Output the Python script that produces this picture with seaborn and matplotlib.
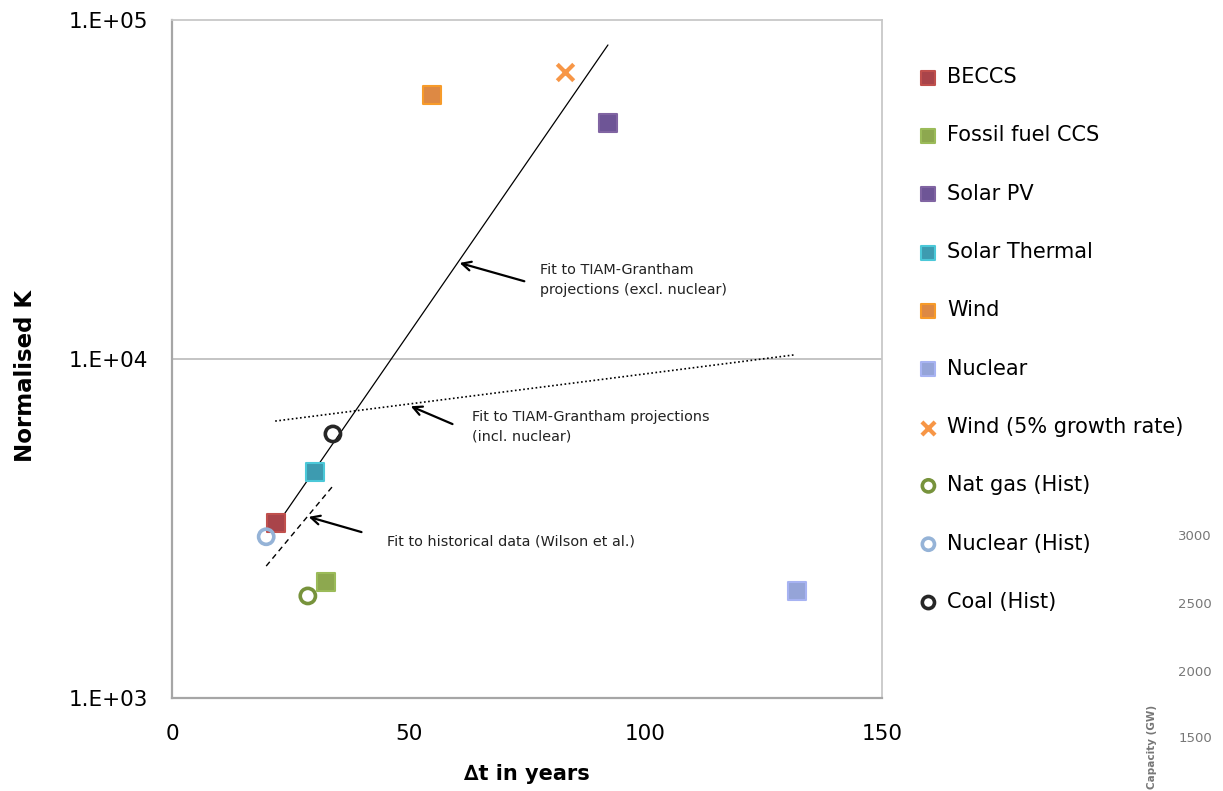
import numpy as np
import seaborn as sns
import matplotlib.pyplot as plt
from matplotlib.ticker import FixedLocator, FuncFormatter, NullLocator

# Projection points (delta t in years, normalised K)
series_names = ["BECCS", "Fossil fuel CCS", "Solar PV", "Solar Thermal", "Wind", "Nuclear",
                "Wind (5% growth rate)", "Nat gas (Hist)", "Nuclear (Hist)", "Coal (Hist)"]
series_dt = [22.0, 32.5, 92.1, 30.2, 54.9, 132.0, 83.0, 28.7, 19.9, 34.0]
series_k = [3280, 2200, 49700, 4640, 60100, 2070, 70300, 2000, 2990, 6010]
series_marker = ["s", "s", "s", "s", "s", "s", "x", "o", "o", "o"]
series_face = ["#A9444A", "#8DA84F", "#6E5596", "#3D9BB0", "#DD8944", "#95A4D8",
               "#F79646", "none", "none", "none"]
series_edge = ["#C0504D", "#9BBB59", "#8064A2", "#4BC8D8", "#F79B2A", "#A7B3F2",
               "#F79646", "#77933C", "#95B3D7", "#262626"]

# Fit lines (end points)
fit_excl_dt = [21.8, 92.1]
fit_excl_k = [3190, 84400]
fit_incl_dt = [21.8, 131.6]
fit_incl_k = [6560, 10290]
fit_hist_dt = [19.9, 33.8]
fit_hist_k = [2450, 4190]

sns.set_style("white")
plt.rcParams['font.family'] = ['DejaVu Sans']
plt.rcParams['text.color'] = 'black'
plt.rcParams['axes.labelcolor'] = 'black'

fig = plt.figure(figsize=(12.23, 7.91), dpi=100)
ax = fig.add_axes([172 / 1223, 1 - 698 / 791, 710 / 1223, 678 / 791])

sns.lineplot(x=fit_excl_dt, y=fit_excl_k, ax=ax, color="black", lw=0.9, sort=False)
sns.lineplot(x=fit_incl_dt, y=fit_incl_k, ax=ax, color="black", lw=1.2, linestyle=(0, (1, 1.5)), sort=False)
sns.lineplot(x=fit_hist_dt, y=fit_hist_k, ax=ax, color="black", lw=1.0, linestyle=(0, (4, 3)), sort=False)

for name, dt, k, m, fc, ec in zip(series_names, series_dt, series_k, series_marker, series_face, series_edge):
    if m == "s":
        sns.scatterplot(x=[dt], y=[k], ax=ax, marker="s", s=150, color=fc, edgecolor=ec,
                        linewidth=1.5, label=name, zorder=3)
    elif m == "x":
        sns.scatterplot(x=[dt], y=[k], ax=ax, marker="x", s=140, color=ec, linewidth=3,
                        label=name, zorder=3)
    else:
        sns.scatterplot(x=[dt], y=[k], ax=ax, marker="o", s=120, facecolor="none", edgecolor=ec,
                        linewidth=2.6, label=name, zorder=3)

ax.set_yscale("log")
ax.set_xlim(0, 150)
ax.set_ylim(1e3, 1e5)
ax.xaxis.set_major_locator(FixedLocator([0, 50, 100, 150]))
ax.yaxis.set_major_locator(FixedLocator([1e3, 1e4, 1e5]))
ax.yaxis.set_minor_locator(NullLocator())
ax.yaxis.set_major_formatter(FuncFormatter(lambda v, p: "1.E+%02d" % round(np.log10(v))))
ax.tick_params(axis="both", direction="out", length=6, width=1.2, color="#A6A6A6",
               labelsize=15.5, labelcolor="black")
ax.tick_params(axis="y", pad=11)
ax.tick_params(axis="x", pad=13)
ax.grid(False)
ax.axhline(1e4, color="#BFBFBF", lw=1.3, zorder=0)

for side in ["left", "bottom"]:
    ax.spines[side].set_color("#A6A6A6")
    ax.spines[side].set_linewidth(1.6)
for side in ["top", "right"]:
    ax.spines[side].set_color("#C8C8C8")
    ax.spines[side].set_linewidth(1.3)

ax.set_xlabel("\u2206t in years", fontsize=15, fontweight="bold")
ax.set_ylabel("Normalised K", fontsize=16.5, fontweight="bold")
ax.xaxis.set_label_coords(0.5, -0.097)
ax.yaxis.set_label_coords(-0.19, 0.475)

# Annotations
ann_kw = dict(arrowprops=dict(arrowstyle="->", color="black", lw=1.6, mutation_scale=16))
ax.annotate("", xy=(60.2, 19300), xytext=(75.0, 16870), **ann_kw)
ax.text(77.8, 17100, "Fit to TIAM-Grantham\nprojections (excl. nuclear)", fontsize=10.4,
        va="center", ha="left", linespacing=1.5, color="#222222")
ax.annotate("", xy=(49.9, 7310), xytext=(59.8, 6380), **ann_kw)
ax.text(63.4, 6300, "Fit to TIAM-Grantham projections\n(incl. nuclear)", fontsize=10.4,
        va="center", ha="left", linespacing=1.5, color="#222222")
ax.annotate("", xy=(28.3, 3440), xytext=(40.6, 3070), **ann_kw)
ax.text(45.4, 2900, "Fit to historical data (Wilson et al.)", fontsize=10.4,
        va="center", ha="left", color="#222222")

leg = ax.legend(loc="upper left", bbox_to_anchor=(918 / 1223, 1 - 67 / 791),
                bbox_transform=fig.transFigure, frameon=False, fontsize=15,
                handlelength=1.0, handletextpad=0.4, labelspacing=1.84,
                borderpad=0, borderaxespad=0, markerscale=0.8)
for t in leg.get_texts():
    t.set_color("black")

# Fragment of a neighbouring figure at the bottom right
for lbl, ypx in zip(["3000", "2500", "2000", "1500"], [536, 605, 672, 739]):
    fig.text(1195 / 1223, 1 - ypx / 791, lbl, fontsize=9.5, color="#777777",
             ha="center", va="center")
fig.text(1152 / 1223, 1 - 789 / 791, "Capacity (GW)", fontsize=7.5, color="#777777",
         rotation=90, ha="center", va="bottom", fontweight="bold")

fig.savefig("out.png", dpi=100)
